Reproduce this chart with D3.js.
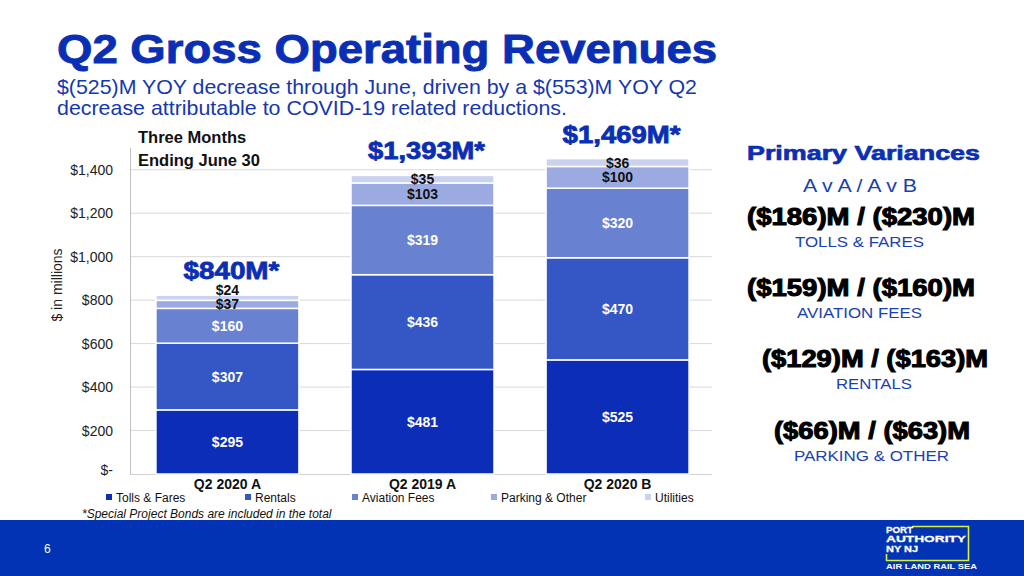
<!DOCTYPE html>
<html>
<head>
<meta charset="utf-8">
<script src="https://cdn.jsdelivr.net/npm/d3@7"></script>
<style>
  html, body { margin: 0; padding: 0; background: #fff; }
  svg { display: block; font-family: "Liberation Sans", Arial, sans-serif; }
</style>
</head>
<body>
<svg id="chart" width="1024" height="576"></svg>
<script>
// ---------- data ----------
const categories = ["Q2 2020 A", "Q2 2019 A", "Q2 2020 B"];
const seriesNames = ["Tolls & Fares", "Rentals", "Aviation Fees", "Parking & Other", "Utilities"];
const tollsFares   = [295, 481, 525];
const rentals      = [307, 436, 470];
const aviationFees = [160, 319, 320];
const parkingOther = [37, 103, 100];
const utilities    = [24, 35, 36];
const totals       = [840, 1393, 1469];
const totalLabels  = ["$840M*", "$1,393M*", "$1,469M*"];
const yTicks       = [0, 200, 400, 600, 800, 1000, 1200, 1400];
const yTickLabels  = ["$-", "$200", "$400", "$600", "$800", "$1,000", "$1,200", "$1,400"];
const varianceValues = ["($186)M / ($230)M", "($159)M / ($160)M", "($129)M / ($163)M", "($66)M / ($63)M"];
const varianceNames  = ["TOLLS & FARES", "AVIATION FEES", "RENTALS", "PARKING & OTHER"];

const colors = ["#0b2db7", "#3556c5", "#6882d1", "#9babe1", "#cad2ef"];
const blue = "#0a2fb4";

const svg = d3.select("#chart");

// ---------- titles ----------
svg.append("text").attr("x", 57).attr("y", 63)
  .attr("font-size", 41).attr("font-weight", "bold").attr("fill", blue)
  .attr("stroke", blue).attr("stroke-width", 0.9)
  .attr("textLength", 660).attr("lengthAdjust", "spacingAndGlyphs")
  .text("Q2 Gross Operating Revenues");

svg.append("text").attr("x", 57).attr("y", 94).attr("font-size", 21).attr("fill", "#1537b0")
  .attr("textLength", 640).attr("lengthAdjust", "spacingAndGlyphs")
  .text("$(525)M YOY decrease through June, driven by a $(553)M YOY Q2");
svg.append("text").attr("x", 57).attr("y", 115).attr("font-size", 21).attr("fill", "#1537b0")
  .attr("textLength", 510).attr("lengthAdjust", "spacingAndGlyphs")
  .text("decrease attributable to COVID-19 related reductions.");

svg.append("text").attr("x", 138).attr("y", 143).attr("font-size", 16.5).attr("font-weight", "bold")
  .attr("fill", "#111").text("Three Months");
svg.append("text").attr("x", 138).attr("y", 166).attr("font-size", 16.5).attr("font-weight", "bold")
  .attr("fill", "#111").text("Ending June 30");

// ---------- scales ----------
const x = d3.scaleBand().domain(categories).range([130, 715]).paddingInner(0.267).paddingOuter(0.133);
const y = d3.scaleLinear().domain([0, 1500]).range([474, 148]);

// gridlines
svg.append("g").selectAll("line").data(yTicks.slice(1)).join("line")
  .attr("x1", 130).attr("x2", 712)
  .attr("y1", d => y(d)).attr("y2", d => y(d))
  .attr("stroke", "#d9d9d9").attr("stroke-width", 1);

// axis lines
svg.append("line").attr("x1", 130.5).attr("x2", 130.5).attr("y1", y(1500)).attr("y2", y(0))
  .attr("stroke", "#bfbfbf");
svg.append("line").attr("x1", 130).attr("x2", 712).attr("y1", y(0) + 0.5).attr("y2", y(0) + 0.5)
  .attr("stroke", "#d0d0d0");

// y tick labels
svg.append("g").selectAll("text").data(yTicks).join("text")
  .attr("x", 113).attr("y", (d, i) => y(d) + (i === 0 ? 1 : 5))
  .attr("text-anchor", "end").attr("font-size", 14).attr("fill", "#222")
  .text((d, i) => yTickLabels[i]);

svg.append("text").attr("transform", "translate(62,285) rotate(-90)")
  .attr("text-anchor", "middle").attr("font-size", 14).attr("fill", "#222").text("$ in millions");

// ---------- stacked bars ----------
const table = categories.map((c, i) => ({
  cat: c,
  "Tolls & Fares": tollsFares[i],
  "Rentals": rentals[i],
  "Aviation Fees": aviationFees[i],
  "Parking & Other": parkingOther[i],
  "Utilities": utilities[i]
}));
const stack = d3.stack().keys(seriesNames)(table);

const layers = svg.append("g").selectAll("g").data(stack).join("g")
  .attr("fill", (d, i) => colors[i]);
layers.selectAll("rect").data(d => d).join("rect")
  .attr("x", d => x(d.data.cat))
  .attr("width", x.bandwidth())
  .attr("y", d => y(d[1]))
  .attr("height", d => y(d[0]) - y(d[1]))
  .attr("stroke", "#fff").attr("stroke-width", 1.5);

// segment labels
stack.forEach((layer, si) => {
  layer.forEach((d, ci) => {
    const cx = x(d.data.cat) + x.bandwidth() / 2;
    let cy = (y(d[0]) + y(d[1])) / 2;
    const fill = si < 3 ? "#fff" : "#111";
    if (si === 4) {
      const pLayer = stack[3][ci];
      const pCy = (y(pLayer[0]) + y(pLayer[1])) / 2;
      cy = Math.min(cy, pCy - 14);
    }
    svg.append("text").attr("x", cx).attr("y", cy + 5)
      .attr("text-anchor", "middle").attr("font-size", 14).attr("font-weight", "bold")
      .attr("fill", fill).text("$" + (d[1] - d[0]));
  });
});

// totals
const totalW = [96, 117, 118];
svg.append("g").selectAll("text").data(categories).join("text")
  .attr("x", (d, i) => x(d) + x.bandwidth() / 2 + 4 - totalW[i] / 2)
  .attr("y", (d, i) => y(totals[i]) - 12)
  .attr("font-size", 24).attr("font-weight", "bold").attr("fill", blue)
  .attr("stroke", blue).attr("stroke-width", 0.8)
  .attr("textLength", (d, i) => totalW[i]).attr("lengthAdjust", "spacingAndGlyphs")
  .text((d, i) => totalLabels[i]);

// category labels
svg.append("g").selectAll("text").data(categories).join("text")
  .attr("x", d => x(d) + x.bandwidth() / 2)
  .attr("y", 489)
  .attr("text-anchor", "middle").attr("font-size", 14).attr("font-weight", "bold").attr("fill", "#111")
  .text(d => d);

// legend
const legendX = [106, 245, 352, 491, 645];
const lg = svg.append("g").selectAll("g").data(seriesNames).join("g")
  .attr("transform", (d, i) => `translate(${legendX[i]},0)`);
lg.append("rect").attr("x", 0).attr("y", 494).attr("width", 6).attr("height", 6).attr("fill", (d, i) => colors[i]);
lg.append("text").attr("x", 10).attr("y", 502).attr("font-size", 12).attr("fill", "#111").text(d => d);

svg.append("text").attr("x", 82).attr("y", 518).attr("font-size", 12).attr("font-style", "italic")
  .attr("fill", "#111").text("*Special Project Bonds are included in the total");

// ---------- variance panel ----------
svg.append("text").attr("x", 747).attr("y", 160)
  .attr("font-size", 21).attr("font-weight", "bold").attr("fill", blue)
  .attr("stroke", blue).attr("stroke-width", 0.7)
  .attr("textLength", 233).attr("lengthAdjust", "spacingAndGlyphs").text("Primary Variances");
svg.append("text").attr("x", 803).attr("y", 192)
  .attr("font-size", 19).attr("fill", "#1a3fb3")
  .attr("textLength", 114).attr("lengthAdjust", "spacingAndGlyphs").text("A v A / A v B");
const vX = [747, 747, 762, 774];
const vW = [228, 228, 226, 196];
const vY = [225, 296, 367, 439];
const nX = [795, 797, 836, 794];
const nW = [129, 125, 76, 155];
varianceValues.forEach((v, i) => {
  svg.append("text").attr("x", vX[i]).attr("y", vY[i])
    .attr("font-size", 23).attr("font-weight", "bold").attr("fill", "#000")
    .attr("stroke", "#000").attr("stroke-width", 1)
    .attr("textLength", vW[i]).attr("lengthAdjust", "spacingAndGlyphs").text(v);
  svg.append("text").attr("x", nX[i]).attr("y", vY[i] + 22)
    .attr("font-size", 15.5).attr("fill", "#1a3fb3")
    .attr("textLength", nW[i]).attr("lengthAdjust", "spacingAndGlyphs").text(varianceNames[i]);
});

// ---------- footer ----------
svg.append("rect").attr("x", 0).attr("y", 520).attr("width", 1024).attr("height", 56).attr("fill", "#0233b4");
svg.append("text").attr("x", 44).attr("y", 553).attr("font-size", 12).attr("fill", "#fff").text("6");

const logo = svg.append("g");
logo.append("path")
  .attr("d", "M912,526.5 H968.5 V560.5 H886.5 V554")
  .attr("fill", "none").attr("stroke", "#d7f23a").attr("stroke-width", 1.6);
[["PORT", 532.5, 27], ["AUTHORITY", 542, 80], ["NY NJ", 551.5, 32]].forEach(([t, yy, w]) => {
  logo.append("text").attr("x", 886).attr("y", yy).attr("font-size", 9.5).attr("font-weight", "bold")
    .attr("fill", "#fff").attr("stroke", "#fff").attr("stroke-width", 0.3)
    .attr("textLength", w).attr("lengthAdjust", "spacingAndGlyphs").text(t);
});
logo.append("text").attr("x", 886).attr("y", 569).attr("font-size", 7.5).attr("font-weight", "bold")
  .attr("fill", "#fff").attr("textLength", 91).attr("lengthAdjust", "spacingAndGlyphs").text("AIR LAND RAIL SEA");
</script>
</body>
</html>
